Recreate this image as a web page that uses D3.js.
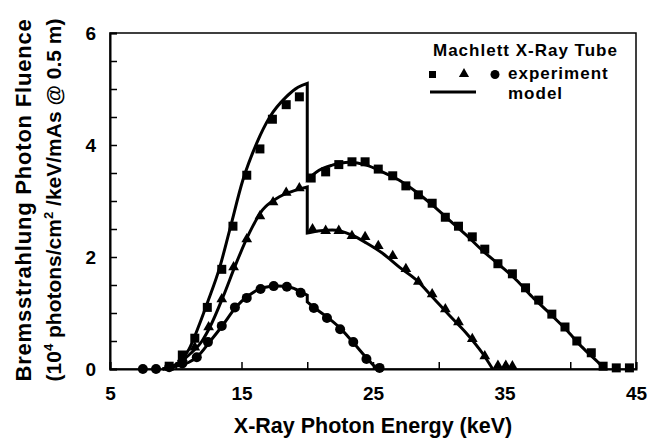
<!DOCTYPE html>
<html>
<head>
<meta charset="utf-8">
<script src="https://cdn.jsdelivr.net/npm/d3@7"></script>
<style>
	body { margin: 0; background: #fff; }
	svg text { font-family: 'Liberation Sans', Arial, sans-serif; font-weight: bold; fill: #000; }
</style>
</head>
<body>
<div id="chart"></div>
<script>
// experiment points, [energy keV, fluence]
const squares = [[9.5,0.05],[10.5,0.25],[11.45,0.55],[12.4,1.1],[13.5,1.78],[14.35,2.55],[15.4,3.46],[16.4,3.93],[17.35,4.46],[18.4,4.72],[19.4,4.86],
	[20.3,3.41],[21.4,3.52],[22.4,3.65],[23.4,3.7],[24.4,3.7],[25.4,3.57],[26.5,3.45],[27.5,3.27],[28.45,3.11],[29.5,2.96],[30.5,2.71],[31.5,2.55],
	[32.55,2.36],[33.5,2.14],[34.5,1.88],[35.6,1.7],[36.6,1.45],[37.6,1.23],[38.6,0.98],[39.6,0.75],[40.5,0.5],[41.6,0.29],[42.5,0.05],[43.5,0.02],[44.5,0.02]];
const triangles = [[10.5,0.18],[11.45,0.37],[12.5,0.73],[13.5,1.23],[14.4,1.8],[15.4,2.3],[16.4,2.71],[17.4,2.96],[18.4,3.13],[19.4,3.21],
	[20.4,2.48],[21.4,2.45],[22.4,2.45],[23.4,2.36],[24.4,2.34],[25.4,2.18],[26.5,2.0],[27.5,1.77],[28.45,1.54],[29.5,1.32],[30.5,1.05],[31.5,0.82],
	[32.55,0.52],[33.5,0.21],[34.5,0.04],[35.1,0.04],[35.6,0.03]];
const circles = [[7.5,0],[8.5,0],[9.5,0.03],[10.5,0.1],[11.6,0.21],[12.45,0.48],[13.5,0.77],[14.5,1.1],[15.4,1.27],[16.45,1.43],[17.45,1.48],[18.45,1.47],[19.5,1.36],
	[20.5,1.09],[21.5,0.91],[22.5,0.71],[23.5,0.48],[24.5,0.18],[25.5,0.02]];

// model curves, split at the K-edge (20 keV)
const model45 = [
	[[9,0],[10,0.08],[11,0.35],[11.8,0.8],[12.4,1.18],[13.35,1.82],[14.1,2.48],[15.1,3.37],[16.15,4.03],[17.15,4.5],[18.4,4.86],[19.3,5.03],[20,5.1]],
	[[20,3.38],[20.9,3.55],[21.9,3.64],[23.2,3.69],[24.5,3.64],[25.7,3.52],[27,3.37],[28.3,3.16],[29.5,2.93],[30.8,2.66],[32.1,2.39],[33.3,2.12],
		[34.6,1.86],[35.9,1.59],[37.1,1.29],[38.4,1.0],[39.7,0.7],[40.9,0.39],[42.2,0.1],[42.6,0]]
];
const model35 = [
	[[9,0],[10,0.06],[11,0.25],[12,0.5],[12.6,0.75],[13.6,1.29],[14.6,1.89],[15.6,2.43],[16.6,2.84],[17.7,3.05],[18.7,3.16],[19.65,3.23],[20,3.25]],
	[[20,2.43],[21,2.47],[21.9,2.48],[23.4,2.39],[24.5,2.25],[25.7,2.07],[27,1.82],[28.3,1.59],[29.5,1.29],[30.8,0.96],[32.1,0.64],[33.3,0.29],[34.1,0]]
];
const model25 = [
	[[9,0],[10,0.05],[11,0.12],[11.6,0.21],[12.6,0.49],[13.6,0.79],[14.6,1.11],[15.6,1.32],[16.6,1.45],[17.7,1.48],[18.7,1.46],[19.65,1.36],[20,1.32]],
	[[20,1.2],[20.4,1.12],[21.5,0.93],[22.5,0.73],[23.4,0.5],[24.5,0.2],[25.3,0]]
];

const xTickLabels = [5, 15, 25, 35, 45];
const yTickLabels = [0, 2, 4, 6];

document.addEventListener('DOMContentLoaded', function() {
	const W = 648, H = 439;
	const left = 110, right = 636, top = 33, bottom = 369;

	const svg = d3.select('#chart').append('svg')
		.attr('width', W)
		.attr('height', H);

	const x = d3.scaleLinear().domain([5, 45]).range([left, right]);
	const y = d3.scaleLinear().domain([0, 6]).range([bottom, top]);

	// frame
	svg.append('rect')
		.attr('x', left).attr('y', top)
		.attr('width', right - left).attr('height', bottom - top)
		.attr('fill', 'none').attr('stroke', '#000').attr('stroke-width', 1.5);

	// ticks point inwards
	const xAxis = svg.append('g')
		.attr('transform', `translate(0,${bottom})`)
		.call(d3.axisBottom(x).tickValues(d3.range(5, 46, 5)).tickSize(-7).tickFormat(d => xTickLabels.includes(d) ? d : ''));
	const yAxis = svg.append('g')
		.attr('transform', `translate(${left},0)`)
		.call(d3.axisLeft(y).tickValues(d3.range(0, 6.01, 0.5)).tickSize(-7).tickFormat(d => yTickLabels.includes(d) ? d : ''));

	[xAxis, yAxis].forEach(a => {
		a.select('.domain').attr('stroke-width', 2);
		a.selectAll('.tick line').attr('stroke-width', 1.5);
		a.selectAll('text').style('font-size', '19px').attr('fill', '#000');
	});
	xAxis.selectAll('text').attr('dy', null).attr('y', 31);
	yAxis.selectAll('text').attr('x', -14).attr('dy', '0.36em');

	// model lines
	const line = d3.line().x(d => x(d[0])).y(d => y(d[1])).curve(d3.curveMonotoneX);
	[model45, model35, model25].forEach(m => {
		svg.append('path')
			.attr('d', line(m[0]) + line(m[1]).replace(/^M/, 'L'))
			.attr('fill', 'none')
			.attr('stroke', '#000')
			.attr('stroke-width', 3);
	});

	// markers
	svg.selectAll('.sq').data(squares).enter()
		.append('rect')
		.attr('class', 'sq')
		.attr('x', d => x(d[0]) - 4.5).attr('y', d => y(d[1]) - 4.5)
		.attr('width', 9).attr('height', 9);

	const tri = d3.symbol().type(d3.symbolTriangle).size(50);
	svg.selectAll('.tri').data(triangles).enter()
		.append('path')
		.attr('class', 'tri')
		.attr('d', tri)
		.attr('transform', d => `translate(${x(d[0])},${y(d[1]) - 1})`);

	svg.selectAll('.dot').data(circles).enter()
		.append('circle')
		.attr('class', 'dot')
		.attr('cx', d => x(d[0])).attr('cy', d => y(d[1]))
		.attr('r', 5);

	// legend
	const lg = svg.append('g');
	const legendText = (tx, ty, s) => lg.append('text').attr('x', tx).attr('y', ty)
		.style('font-size', '17px').style('letter-spacing', '1px').text(s);
	legendText(433, 56, 'Machlett X-Ray Tube');
	lg.append('rect').attr('x', 429).attr('y', 71).attr('width', 7).attr('height', 7);
	lg.append('path').attr('d', d3.symbol().type(d3.symbolTriangle).size(45)).attr('transform', 'translate(464,74)');
	lg.append('circle').attr('cx', 495).attr('cy', 74.5).attr('r', 4.5);
	legendText(508, 79, 'experiment');
	lg.append('line').attr('x1', 430).attr('x2', 476).attr('y1', 92).attr('y2', 92)
		.attr('stroke', '#000').attr('stroke-width', 3);
	legendText(508, 99, 'model');

	// axis titles
	svg.append('text')
		.attr('x', (left + right) / 2).attr('y', 433)
		.attr('text-anchor', 'middle')
		.style('font-size', '21.5px')
		.text('X-Ray Photon Energy (keV)');

	svg.append('text')
		.attr('transform', 'translate(31,200) rotate(-90)')
		.attr('text-anchor', 'middle')
		.style('font-size', '22px')
		.style('letter-spacing', '0.8px')
		.text('Bremsstrahlung Photon Fluence');

	const yt2 = svg.append('text')
		.attr('transform', 'translate(61,200) rotate(-90)')
		.attr('text-anchor', 'middle')
		.style('font-size', '21px');
	yt2.append('tspan').text('(10');
	yt2.append('tspan').attr('dy', -8).style('font-size', '13px').text('4');
	yt2.append('tspan').attr('dy', 8).text(' photons/cm');
	yt2.append('tspan').attr('dy', -8).style('font-size', '13px').text('2');
	yt2.append('tspan').attr('dy', 8).text(' /keV/mAs @ 0.5 m)');
});
</script>
</body>
</html>
